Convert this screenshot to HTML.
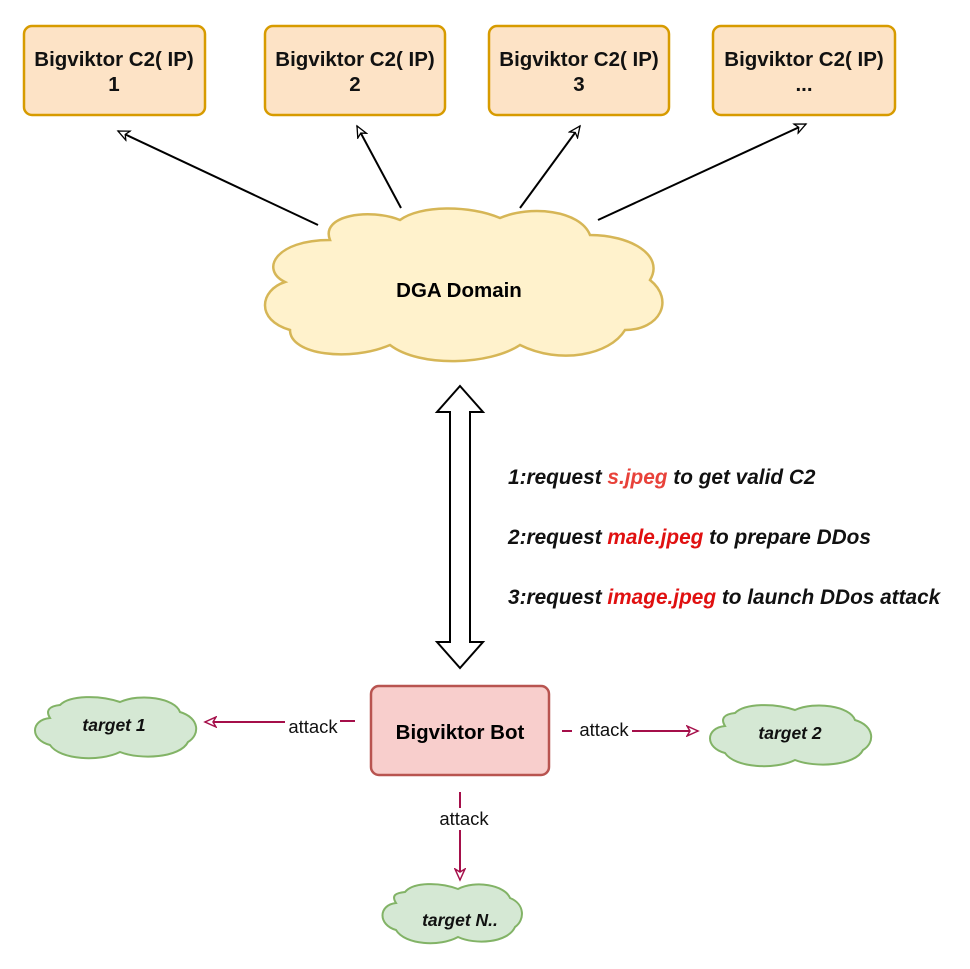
<!DOCTYPE html>
<html><head><style>
body{margin:0;background:#fff}
svg{display:block}
text{font-family:"Liberation Sans",sans-serif}
</style></head><body>
<svg width="970" height="969" viewBox="0 0 970 969" xmlns="http://www.w3.org/2000/svg">
<defs>
<marker id="ah" markerWidth="14" markerHeight="12" refX="12" refY="6" orient="auto" markerUnits="userSpaceOnUse">
<path d="M1,1 L12,6 L1,11 L4,6 Z" fill="#fff" stroke="#000" stroke-width="1.3"/></marker>
<marker id="rh" markerWidth="14" markerHeight="12" refX="12" refY="6" orient="auto" markerUnits="userSpaceOnUse">
<path d="M1,1 L12,6 L1,11 L4,6 Z" fill="#fff" stroke="#a50f4a" stroke-width="1.5"/></marker>
</defs>
<g fill="#fde3c6" stroke="#d79b00" stroke-width="2.5">
<rect x="24" y="26" width="181" height="89" rx="8"/>
<rect x="265" y="26" width="180" height="89" rx="8"/>
<rect x="489" y="26" width="180" height="89" rx="8"/>
<rect x="713" y="26" width="182" height="89" rx="8"/>
</g>
<g font-weight="bold" font-size="20.5" text-anchor="middle" fill="#111">
<text x="114" y="66">Bigviktor C2( IP)</text><text x="114" y="91">1</text>
<text x="355" y="66">Bigviktor C2( IP)</text><text x="355" y="91">2</text>
<text x="579" y="66">Bigviktor C2( IP)</text><text x="579" y="91">3</text>
<text x="804" y="66">Bigviktor C2( IP)</text><text x="804" y="91">...</text>
</g>
<g stroke="#000" stroke-width="2" fill="none">
<line x1="318" y1="225" x2="118" y2="131" marker-end="url(#ah)"/>
<line x1="401" y1="208" x2="357" y2="126" marker-end="url(#ah)"/>
<line x1="520" y1="208" x2="580" y2="126" marker-end="url(#ah)"/>
<line x1="598" y1="220" x2="806" y2="124" marker-end="url(#ah)"/>
</g>
<path d="M330,240 C320,215 370,208 400,220 C420,205 470,205 500,218 C530,205 580,210 590,235 C630,235 665,255 650,280 C675,300 660,330 625,330 C610,355 560,365 520,345 C490,365 420,368 390,345 C350,362 290,355 290,330 C255,320 260,290 285,282 C260,270 275,240 330,240 Z" fill="#fff2cc" stroke="#d6b656" stroke-width="2.5"/>
<text x="459" y="297" font-weight="bold" font-size="20.5" text-anchor="middle">DGA Domain</text>
<path d="M460,386 L483,412 L470,412 L470,642 L483,642 L460,668 L437,642 L450,642 L450,412 L437,412 Z" fill="#fff" stroke="#000" stroke-width="2"/>
<g font-weight="bold" font-style="italic" font-size="20.8" fill="#111">
<text x="508" y="484">1:request <tspan fill="#e8423a">s.jpeg</tspan> to get valid C2</text>
<text x="508" y="544">2:request <tspan fill="#e01010">male.jpeg</tspan> to prepare DDos</text>
<text x="508" y="604">3:request <tspan fill="#e01010">image.jpeg</tspan> to launch DDos attack</text>
</g>
<rect x="371" y="686" width="178" height="89" rx="8" fill="#f8cecc" stroke="#b85450" stroke-width="2.5"/>
<text x="460" y="739" font-weight="bold" font-size="20.5" text-anchor="middle">Bigviktor Bot</text>
<g stroke="#a50f4a" stroke-width="2" fill="none">
<line x1="355" y1="721" x2="340" y2="721"/>
<line x1="285" y1="722" x2="205" y2="722" marker-end="url(#rh)"/>
<line x1="562" y1="731" x2="572" y2="731"/>
<line x1="632" y1="731" x2="698" y2="731" marker-end="url(#rh)"/>
<line x1="460" y1="792" x2="460" y2="808"/>
<line x1="460" y1="830" x2="460" y2="880" marker-end="url(#rh)"/>
</g>
<g font-size="18.5" fill="#111" text-anchor="middle">
<text x="313" y="733">attack</text>
<text x="604" y="736">attack</text>
<text x="464" y="825">attack</text>
</g>
<g fill="#d5e8d4" stroke="#82b366" stroke-width="2">
<path d="M60,705 C70,695 100,695 120,702 C140,693 175,698 180,712 C200,718 200,735 188,742 C180,758 140,760 120,752 C100,762 60,760 50,745 C30,740 30,720 50,718 C45,710 50,706 60,705 Z"/>
<path d="M735,713 C745,703 775,703 795,710 C815,701 850,706 855,720 C875,726 875,743 863,750 C855,766 815,768 795,760 C775,770 735,768 725,753 C705,748 705,728 725,726 C720,718 725,714 735,713 Z"/>
<path d="M405,892 C413,882 440,882 458,889 C475,880 505,885 510,898 C525,904 525,920 515,927 C508,943 475,945 458,937 C440,947 405,945 396,930 C378,925 378,905 396,903 C391,895 396,893 405,892 Z"/>
</g>
<g font-weight="bold" font-style="italic" font-size="17.5" fill="#111" text-anchor="middle">
<text x="114" y="731">target 1</text>
<text x="790" y="739">target 2</text>
<text x="460" y="926">target N..</text>
</g>
</svg>
</body></html>
